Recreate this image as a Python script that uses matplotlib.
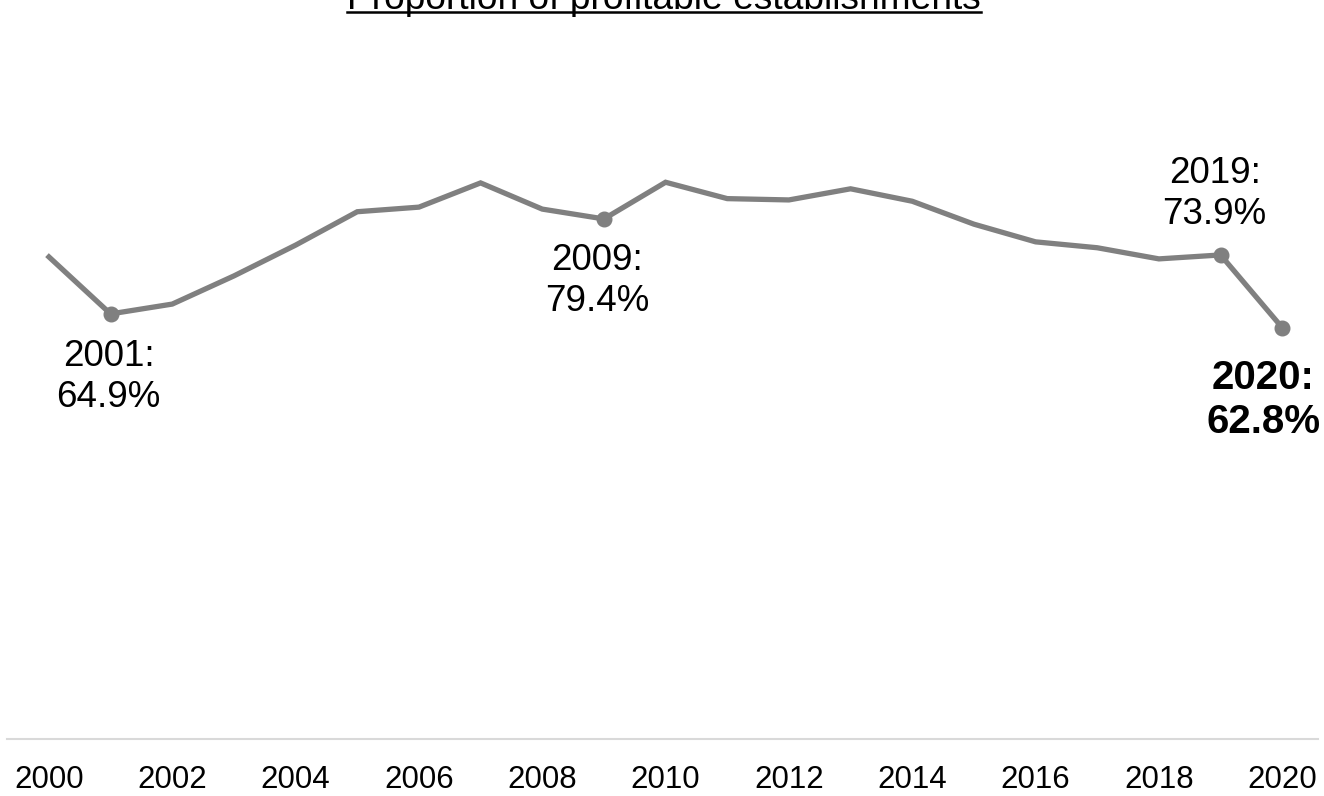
import matplotlib
matplotlib.use("Agg")
import matplotlib.pyplot as plt
from matplotlib.lines import Line2D

plt.rcParams["font.family"] = ["Liberation Sans", "DejaVu Sans"]

# 数据：盈利机构占比 (%)
years = list(range(2000, 2021))
share = [73.6, 64.9, 66.4, 70.7, 75.4, 80.5, 81.2, 84.9, 80.9, 79.4,
         85.0, 82.5, 82.3, 84.0, 82.1, 78.6, 75.9, 75.0, 73.3, 73.9, 62.8]
tick_years = list(range(2000, 2021, 2))
marked = [2001, 2009, 2019, 2020]
title = "Proportion of profitable establishments"

W, H, DPI = 1324, 796, 100
fig = plt.figure(figsize=(W / DPI, H / DPI), dpi=DPI)
ax = fig.add_axes([7 / W, 1 - 739 / H, (1318 - 7) / W, (739 - 84) / H])

grey = "#808080"
ax.plot(years, share, color=grey, lw=3.8, solid_joinstyle="miter", zorder=3)
my = [share[years.index(y)] for y in marked]
ax.plot(marked, my, "o", color=grey, ms=10.5, zorder=4)

ax.set_xlim(1999.32, 2020.58)
ax.set_ylim(0, 100)
ax.set_xticks(tick_years)
ax.set_xticklabels([str(y) for y in tick_years], fontsize=22.5)
ax.tick_params(axis="x", length=0, pad=19)
ax.set_yticks([])
for side in ("top", "left", "right"):
    ax.spines[side].set_visible(False)
ax.spines["bottom"].set_color("#d9d9d9")
ax.spines["bottom"].set_linewidth(1.5)

# 标注：年份 -> (x偏移px, y偏移px, 对齐, 粗体)
labels = {
    2001: (-2, -63, "center", False),
    2009: (-7, -62, "center", False),
    2019: (-6, 61, "center", False),
    2020: (38, -72, "right", True),
}
for y, (dx, dy, ha, bold) in labels.items():
    v = share[years.index(y)]
    ax.annotate(f"{y}:\n{v:.1f}%", (y, v), xytext=(dx, dy), textcoords="offset pixels",
                ha=ha, va="center", fontsize=29 if bold else 26.5,
                fontweight="bold" if bold else "normal", linespacing=1.2,
                multialignment="center", annotation_clip=False)

# 标题（带下划线，顶部被裁切，与原图一致）
t = fig.text(664 / W, 1 - 9 / H, title, ha="center", va="baseline", fontsize=26.7)
fig.canvas.draw()
bb = t.get_window_extent(fig.canvas.get_renderer())
uy = 1 - 12 / H
fig.add_artist(Line2D([bb.x0 / W, bb.x1 / W], [uy, uy], transform=fig.transFigure,
                      color="black", lw=1.8))

fig.savefig("out.png", dpi=DPI)
